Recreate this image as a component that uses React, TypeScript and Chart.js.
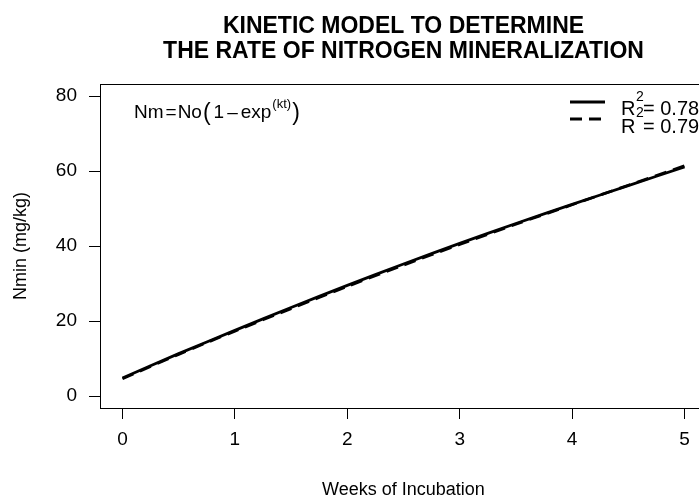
import React, { useEffect, useRef } from "react";
import { Chart, registerables } from "chart.js";

Chart.register(...registerables);

// ---- data ----
const weeks = [0, 0.5, 1, 1.5, 2, 2.5, 3, 3.5, 4, 4.5, 5];
const fitSolid = [4.8, 11.3, 17.5, 23.6, 29.5, 35.2, 40.7, 46.0, 51.1, 56.1, 61.1];
const fitDashed = [4.6, 11.1, 17.3, 23.3, 29.2, 34.9, 40.4, 45.8, 51.0, 56.2, 61.4];
const xTicks = [0, 1, 2, 3, 4, 5];
const yTicks = [0, 20, 40, 60, 80];
const r2Values = ["0.78", "0.79"];
const titleLines = ["KINETIC MODEL TO DETERMINE", "THE RATE OF NITROGEN MINERALIZATION"];
const xTitle = "Weeks of Incubation";
const yTitle = "Nmin (mg/kg)";

const FONT = '"Liberation Sans", Arial, Helvetica, sans-serif';
const CANVAS_W = 720;
const CANVAS_H = 502;

const annotate = {
  id: "annotate",
  afterDraw(chart: any) {
    const { ctx, chartArea: ca } = chart;
    ctx.save();
    // plot box
    ctx.strokeStyle = "#000";
    ctx.lineWidth = 1;
    ctx.strokeRect(
      Math.round(ca.left) + 0.5,
      Math.round(ca.top) + 0.5,
      Math.round(ca.right - ca.left),
      Math.round(ca.bottom - ca.top)
    );
    ctx.fillStyle = "#000";
    // title
    ctx.font = `bold 23px ${FONT}`;
    ctx.textAlign = "center";
    ctx.textBaseline = "alphabetic";
    const cx = (ca.left + ca.right) / 2;
    ctx.fillText(titleLines[0], cx, 33);
    ctx.fillText(titleLines[1], cx, 58);

    // formula  Nm = No(1 - exp^(kt))
    ctx.textAlign = "left";
    const base = 118;
    let x = 134;
    const pieces: [string, number, number, number][] = [
      ["Nm", 19, 0, 2],
      ["=", 19, 0, 1],
      ["No", 19, 0, 1],
      ["(", 23, 2, 3],
      ["1", 19, 0, 3],
      ["\u2013", 19, 0, 3],
      ["exp", 19, 0, 1],
      ["(kt)", 13, -10, 1],
      [")", 23, 2, 0],
    ];
    pieces.forEach(([t, size, dy, gap]) => {
      ctx.font = `${size}px ${FONT}`;
      ctx.fillText(t, x, base + dy);
      x += ctx.measureText(t).width + gap;
    });

    // legend
    const ds = chart.data.datasets;
    const lineY = [102, 119];
    const textY = [115, 133];
    const supY = [101, 117];
    ds.forEach((d: any, i: number) => {
      ctx.save();
      ctx.strokeStyle = d.borderColor;
      ctx.lineWidth = d.borderWidth;
      ctx.setLineDash(d.borderDash || []);
      ctx.beginPath();
      ctx.moveTo(570, lineY[i]);
      ctx.lineTo(605, lineY[i]);
      ctx.stroke();
      ctx.restore();
      ctx.font = `20px ${FONT}`;
      ctx.fillText("R", 621, textY[i]);
      ctx.font = `14px ${FONT}`;
      ctx.fillText("2", 636, supY[i]);
      ctx.font = `20px ${FONT}`;
      ctx.fillText("= " + r2Values[i], 643, textY[i]);
    });
    ctx.restore();
  },
};

export default function App() {
  const ref = useRef<HTMLCanvasElement | null>(null);
  useEffect(() => {
    if (!ref.current) return;
    const chart = new Chart(ref.current, {
      type: "line",
      data: {
        labels: weeks,
        datasets: [
          {
            label: "R2 = " + r2Values[0],
            data: weeks.map((w, i) => ({ x: w, y: fitSolid[i] })),
            borderColor: "#000",
            borderWidth: 2.8,
            pointRadius: 0,
            tension: 0.3,
            fill: false,
          },
          {
            label: "R2 = " + r2Values[1],
            data: weeks.map((w, i) => ({ x: w, y: fitDashed[i] })),
            borderColor: "#000",
            borderWidth: 2.8,
            borderDash: [12, 7],
            pointRadius: 0,
            tension: 0.3,
            fill: false,
          },
        ],
      },
      options: {
        responsive: false,
        animation: false,
        devicePixelRatio: 1,
        layout: { padding: { left: 0, top: 84, right: 13, bottom: 0 } },
        plugins: {
          legend: { display: false },
          title: { display: false },
          tooltip: { enabled: false },
        },
        scales: {
          x: {
            type: "linear",
            min: -0.2,
            max: 5.2,
            afterBuildTicks: (s: any) => {
              s.ticks = xTicks.map((v) => ({ value: v }));
            },
            afterFit: (s: any) => {
              s.height = CANVAS_H - 408;
              s.paddingLeft = 0;
              s.paddingRight = 0;
            },
            grid: {
              drawOnChartArea: false,
              drawTicks: true,
              tickLength: 11,
              color: "#000",
              lineWidth: 1,
            },
            border: { display: true, color: "#000", width: 1 },
            ticks: {
              color: "#000",
              font: { family: FONT, size: 19 },
              padding: 9,
              maxRotation: 0,
              callback: (v: any) => String(v),
            },
            title: {
              display: true,
              text: xTitle,
              color: "#000",
              font: { family: FONT, size: 18 },
              padding: { top: 0, bottom: 1 },
            },
          },
          y: {
            type: "linear",
            min: -3.2,
            max: 83.2,
            afterBuildTicks: (s: any) => {
              s.ticks = yTicks.map((v) => ({ value: v }));
            },
            afterFit: (s: any) => {
              s.width = 100;
              s.paddingTop = 0;
              s.paddingBottom = 0;
            },
            grid: {
              drawOnChartArea: false,
              drawTicks: true,
              tickLength: 11,
              color: "#000",
              lineWidth: 1,
            },
            border: { display: true, color: "#000", width: 1 },
            ticks: {
              color: "#000",
              font: { family: FONT, size: 19 },
              padding: 12,
              callback: (v: any) => String(v),
            },
            title: {
              display: true,
              text: yTitle,
              color: "#000",
              font: { family: FONT, size: 18 },
              padding: { top: 10, bottom: 0 },
            },
          },
        },
      },
      plugins: [annotate],
    });
    return () => chart.destroy();
  }, []);

  return (
    <div
      style={{
        position: "absolute",
        left: 0,
        top: 0,
        width: 699,
        height: 498,
        overflow: "hidden",
        background: "#fff",
      }}
    >
      <canvas
        ref={ref}
        width={CANVAS_W}
        height={CANVAS_H}
        style={{ display: "block", width: CANVAS_W, height: CANVAS_H }}
      />
    </div>
  );
}
